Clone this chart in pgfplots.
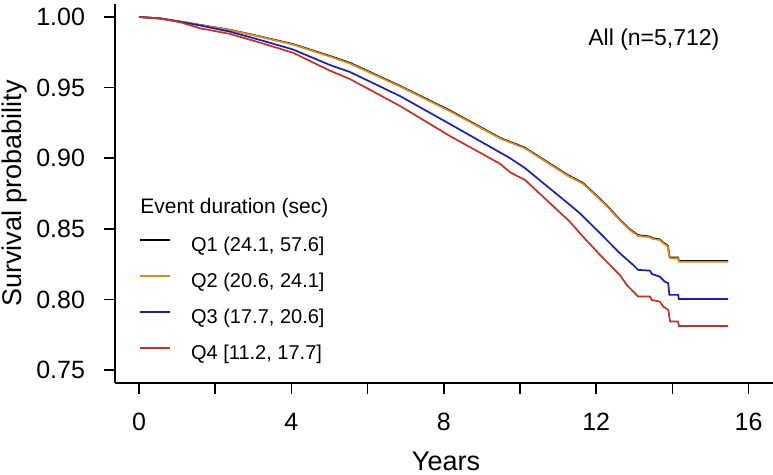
\documentclass[border=0pt]{standalone}
\usepackage{fontspec}
\setmainfont{Liberation Sans}
\usepackage{pgfplots}
\pgfplotsset{compat=1.18}

\definecolor{qblack}{RGB}{0,0,0}
\definecolor{qorange}{RGB}{222,136,34}
\definecolor{qblue}{RGB}{28,28,182}
\definecolor{qred}{RGB}{198,48,36}

% Kaplan-Meier estimates (years, survival)
\newcommand{\qone}{
(0,1.000)(0.55,0.9990)(1.08,0.9968)(1.60,0.9944)(2.39,0.9909)(3.18,0.9862)
(4.04,0.9808)(5.01,0.9724)(5.54,0.9675)(6.85,0.9512)(8.16,0.9338)(9.48,0.9144)
(10.13,0.9074)(11.26,0.8880)(11.65,0.8825)(11.97,0.8745)(12.28,0.8665)
(12.62,0.8565)(12.89,0.8495)(13.10,0.8455)(13.41,0.8445)(13.49,0.8433)
(13.67,0.8425)(13.75,0.8405)(13.88,0.8380)(13.92,0.8308)(13.94,0.8297)
(14.15,0.8297)(14.17,0.8272)(15.46,0.8272)}
\newcommand{\qtwo}{
(0,1.000)(0.55,0.9990)(1.08,0.9967)(1.60,0.9943)(2.39,0.9908)(3.18,0.9860)
(4.04,0.9805)(5.01,0.9720)(5.54,0.9670)(6.85,0.9508)(8.16,0.9333)(9.48,0.9140)
(10.13,0.9070)(11.26,0.8875)(11.65,0.8820)(11.97,0.8740)(12.28,0.8660)
(12.62,0.8560)(12.89,0.8490)(13.10,0.8450)(13.41,0.8440)(13.49,0.8428)
(13.67,0.8420)(13.75,0.8400)(13.88,0.8375)(13.92,0.8303)(13.94,0.8292)
(14.15,0.8292)(14.17,0.8267)(15.46,0.8267)}
\newcommand{\qthree}{
(0,1.000)(0.55,0.9990)(1.08,0.9966)(1.60,0.9940)(2.39,0.9896)(3.18,0.9837)
(4.04,0.9770)(5.01,0.9660)(5.54,0.9610)(6.85,0.9440)(8.16,0.9242)(9.48,0.9040)
(9.74,0.9000)(10.13,0.8930)(11.31,0.8669)(11.57,0.8610)(12.10,0.8469)
(12.62,0.8327)(12.97,0.8244)(13.10,0.8209)(13.41,0.8204)(13.46,0.8180)
(13.67,0.8161)(13.80,0.8126)(13.89,0.8115)(13.92,0.8032)(14.15,0.8032)
(14.17,0.8003)(15.46,0.8003)}
\newcommand{\qfour}{
(0,1.000)(0.55,0.9989)(1.08,0.9963)(1.60,0.9920)(2.39,0.9880)(3.18,0.9818)
(4.04,0.9747)(5.01,0.9620)(5.54,0.9560)(6.85,0.9370)(8.16,0.9157)(9.48,0.8960)
(9.74,0.8900)(10.13,0.8846)(11.31,0.8550)(11.57,0.8469)(12.10,0.8315)
(12.62,0.8173)(12.80,0.8103)(13.10,0.8020)(13.41,0.8020)(13.46,0.7996)
(13.67,0.7984)(13.76,0.7949)(13.89,0.7926)(13.94,0.7843)(14.15,0.7843)
(14.17,0.7812)(15.46,0.7812)}

\begin{document}
\begin{tikzpicture}
\begin{axis}[
    scale only axis,
    width=329pt, height=189.5pt,
    xmin=-0.63, xmax=16.64,
    ymin=0.7408, ymax=1.0092,
    axis lines=left,
    axis line style={-, line width=0.8pt},
    every tick/.style={line width=0.8pt, black},
    tick align=outside,
    major tick length=5.5pt,
    xtick={0,2,...,16},
    xticklabels={0,,4,,8,,12,,16},
    ytick={0.75,0.80,0.85,0.90,0.95,1.00},
    y tick label style={/pgf/number format/fixed, /pgf/number format/fixed zerofill,
        /pgf/number format/precision=2},
    /pgf/number format/assume math mode=true,
    ticklabel style={font=\fontsize{12.5}{15}\selectfont},
    xticklabel style={anchor=base, yshift=-18.5pt},
    yticklabel style={anchor=east, xshift=-6pt},
    xlabel={Years},
    ylabel={Survival probability},
    label style={font=\fontsize{13.5}{16}\selectfont},
    xlabel style={at={(axis description cs:0.503,-0.2296)}, anchor=base},
    ylabel style={at={(axis description cs:-0.152,0.5)}, anchor=center},
    legend style={draw=none, fill=none, at={(axis description cs:0.0365,0.387)},
        anchor=north west, inner sep=0pt, font=\fontsize{10}{12}\selectfont,
        row sep=8pt, column sep=10pt,
        nodes={inner sep=0pt, text height=7.5pt, text depth=2.5pt}},
    legend cell align=left,
    legend image code/.code={\draw[#1] (0pt,3.5pt) -- (15pt,3.5pt);},
    every axis plot/.append style={line width=0.85pt},
]
\addplot[qblack] coordinates {\qone};
\addplot[qorange] coordinates {\qtwo};
\addplot[qblue] coordinates {\qthree};
\addplot[qred] coordinates {\qfour};
\legend{Q1 (24.1{,} 57.6],Q2 (20.6{,} 24.1],Q3 (17.7{,} 20.6],Q4 [11.2{,} 17.7]}
\node[anchor=west, inner sep=0pt, font=\fontsize{10.5}{12}\selectfont] at (axis description cs:0.038,0.4617) {Event duration (sec)};
\node[anchor=center, font=\fontsize{11.5}{13}\selectfont] at (axis description cs:0.819,0.905) {All (n=5,712)};
\end{axis}
\pgfresetboundingbox
\path[use as bounding box] (-57.5pt,-46pt) rectangle (329pt,191.5pt);
\end{tikzpicture}
\end{document}
